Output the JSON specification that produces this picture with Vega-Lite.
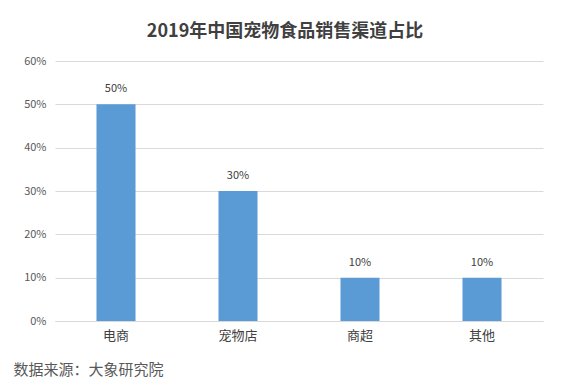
{
  "$schema": "https://vega.github.io/schema/vega-lite/v6.json",
  "autosize": "none",
  "width": 488,
  "height": 260,
  "padding": {"left": 55, "top": 61, "right": 30, "bottom": 58},
  "background": "white",
  "title": {
    "text": "2019年中国宠物食品销售渠道占比",
    "font": "Noto Sans CJK SC",
    "fontSize": 18,
    "fontWeight": "bold",
    "color": "#404040",
    "anchor": "middle",
    "dx": -14,
    "offset": 14
  },
  "data": {
    "values": [
      {"channel": "电商", "share": 0.5},
      {"channel": "宠物店", "share": 0.3},
      {"channel": "商超", "share": 0.1},
      {"channel": "其他", "share": 0.1}
    ]
  },
  "encoding": {
    "x": {
      "field": "channel",
      "type": "nominal",
      "sort": null,
      "scale": {"paddingInner": 0.68, "paddingOuter": 0.34},
      "axis": {
        "title": "数据来源：大象研究院",
        "titleFont": "Noto Sans CJK SC",
        "titleFontSize": 15,
        "titleFontWeight": "normal",
        "titleColor": "#595959",
        "titleAnchor": "start",
        "titleAlign": "left",
        "titleBaseline": "middle",
        "titleX": -42,
        "titleY": 48,
        "labelAngle": 0,
        "labelFont": "Noto Sans CJK SC",
        "labelFontSize": 13,
        "labelColor": "#404040",
        "labelPadding": 8,
        "ticks": false,
        "domain": true,
        "domainColor": "#d9d9d9"
      }
    },
    "y": {
      "field": "share",
      "type": "quantitative",
      "scale": {"domain": [0, 0.6]},
      "axis": {
        "title": null,
        "format": ".0%",
        "values": [0, 0.1, 0.2, 0.3, 0.4, 0.5, 0.6],
        "labelFont": "Noto Sans CJK SC",
        "labelFontSize": 11,
        "labelColor": "#595959",
        "labelPadding": 9,
        "ticks": false,
        "domain": false,
        "grid": true,
        "gridColor": "#d9d9d9",
        "gridWidth": 1
      }
    }
  },
  "layer": [
    {"mark": {"type": "bar", "color": "#5b9bd5"}},
    {
      "mark": {
        "type": "text",
        "dy": -10,
        "font": "Noto Sans CJK SC",
        "fontSize": 11,
        "color": "#404040",
        "baseline": "bottom"
      },
      "encoding": {"text": {"field": "share", "type": "quantitative", "format": ".0%"}}
    }
  ],
  "config": {"view": {"stroke": null}}
}
